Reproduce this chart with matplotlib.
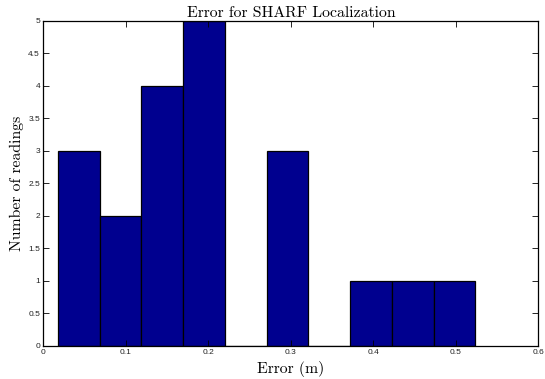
import matplotlib as mpl
mpl.use('Agg')
import matplotlib.pyplot as plt
import numpy as np

# histogram: 10 bins, MATLAB hist style
bin_start = 0.0175
bin_width = 0.0506
counts = [3, 2, 4, 5, 0, 3, 0, 1, 1, 1]

xticks = [0, 0.1, 0.2, 0.3, 0.4, 0.5, 0.6]
xticklabels = ['0', '0.1', '0.2', '0.3', '0.4', '0.5', '0.6']
yticks = [0, 0.5, 1, 1.5, 2, 2.5, 3, 3.5, 4, 4.5, 5]
yticklabels = ['0', '0.5', '1', '1.5', '2', '2.5', '3', '3.5', '4', '4.5', '5']

serif = ['cmr10', 'DejaVu Serif']

fig = plt.figure(figsize=(5.45, 3.79), dpi=100)
ax = fig.add_axes([0.0798, 0.0871, 0.908, 0.8575])

lefts = bin_start + bin_width * np.arange(len(counts))
ax.bar(lefts, counts, width=bin_width, align='edge',
       color='#00008f', edgecolor='black', linewidth=0.9)

ax.set_xlim(0, 0.6)
ax.set_ylim(0, 5)
ax.set_xticks(xticks)
ax.set_xticklabels(xticklabels, family='Liberation Sans', fontsize=6, color='#222222')
ax.set_yticks(yticks)
ax.set_yticklabels(yticklabels, family='Liberation Sans', fontsize=6, color='#222222')
ax.tick_params(direction='in', top=True, right=True, length=4, width=0.6, pad=2.5)
for s in ax.spines.values():
    s.set_linewidth(0.9)

ax.set_title('Error for SHARF Localization', family=serif, fontsize=11.3, pad=3)
ax.set_xlabel('Error (m)', family=serif, fontsize=11.3, labelpad=3)
ax.set_ylabel('Number of readings', family=serif, fontsize=11.3, labelpad=3)

fig.savefig('out.png', dpi=100)
